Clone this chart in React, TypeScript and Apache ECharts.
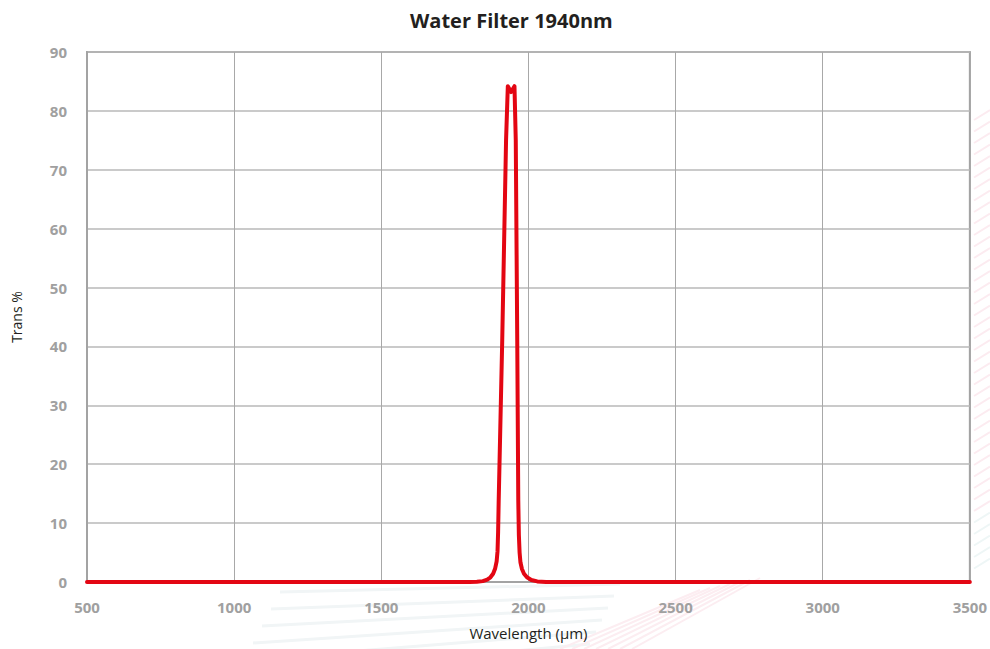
import React, { useEffect, useRef } from "react";
import * as echarts from "echarts";

// Transmission curve of the 1940 nm water filter
const wavelengths = [
  500, 1000, 1500, 1800, 1825, 1845, 1860, 1871, 1880, 1887, 1892, 1895, 1897,
  1899, 1911, 1924, 1930, 1941, 1952.6, 1957, 1962, 1965.5, 1967.5, 1970,
  1973, 1978, 1985, 1995, 2010, 2030, 2060, 2200, 2500, 3000, 3500,
];
const transmission = [
  0, 0, 0, 0, 0.05, 0.15, 0.4, 0.8, 1.4, 2.3, 3.5, 5.2, 8.5, 13.9, 41.1, 75,
  84.2, 83.2, 84.2, 75, 41.1, 13.9, 8, 5, 3.3, 2.2, 1.4, 0.8, 0.35, 0.1, 0, 0,
  0, 0, 0,
];
const xTicks = [500, 1000, 1500, 2000, 2500, 3000, 3500];
const yTicks = [0, 10, 20, 30, 40, 50, 60, 70, 80, 90];

const FONT = "'Open Sans', 'Noto Sans', sans-serif";

// faint decorative stripes behind the plot
function decorStripes() {
  const items: any[] = [];
  for (let i = 0; i < 6; i++) {
    items.push({
      type: "line",
      silent: true,
      z: -10,
      shape: { x1: 280 - i * 9, y1: 592 + i * 17, x2: 620 - i * 6, y2: 584 + i * 12 },
      style: { stroke: "#f1f5f6", lineWidth: 3 },
    });
  }
  for (let i = 0; i < 7; i++) {
    items.push({
      type: "line",
      silent: true,
      z: -10,
      shape: { x1: 560 + i * 12, y1: 649, x2: 700 + i * 10, y2: 590 - i * 2 },
      style: { stroke: "#fcedf1", lineWidth: 2 },
    });
  }
  for (let i = 0; i < 40; i++) {
    const y = 110 + i * 11.5;
    items.push({
      type: "line",
      silent: true,
      z: -10,
      shape: { x1: 974, y1: y + 10, x2: 990, y2: y },
      style: { stroke: i > 34 ? "#eef6f6" : "#fcebf0", lineWidth: 2 },
    });
  }
  return items;
}

export default function App() {
  const ref = useRef<HTMLDivElement>(null);

  useEffect(() => {
    if (!ref.current) return;
    const chart = echarts.init(ref.current, null, { renderer: "svg" });
    const data = wavelengths.map((w, i) => [w, transmission[i]]);
    chart.setOption({
      animation: false,
      backgroundColor: "#ffffff",
      title: {
        text: "Water Filter 1940nm",
        left: 405,
        top: 5,
        textStyle: {
          fontFamily: FONT,
          fontSize: 20,
          fontWeight: "bold",
          color: "#231f20",
        },
      },
      graphic: decorStripes(),
      grid: {
        left: 87,
        right: 19,
        top: 52,
        bottom: 67,
        show: true,
        borderColor: "#a3a3a3",
        borderWidth: 2,
        backgroundColor: "transparent",
      },
      xAxis: {
        type: "value",
        min: xTicks[0],
        max: xTicks[xTicks.length - 1],
        interval: 500,
        name: "Wavelength (µm)",
        nameLocation: "middle",
        nameGap: 43,
        nameTextStyle: { fontFamily: FONT, fontSize: 15, color: "#231f20" },
        axisLine: { show: true, lineStyle: { color: "#a3a3a3", width: 2 } },
        axisTick: { show: false },
        axisLabel: {
          margin: 17,
          fontFamily: FONT,
          fontSize: 15,
          fontWeight: "bold",
          color: "#a0a0a0",
          formatter: (v: number) => String(v),
        },
        splitLine: { show: true, lineStyle: { color: "#a8a8a8", width: 1 } },
      },
      yAxis: {
        type: "value",
        min: yTicks[0],
        max: yTicks[yTicks.length - 1],
        interval: 10,
        name: "Trans %",
        nameLocation: "middle",
        nameGap: 64,
        nameTextStyle: { fontFamily: FONT, fontSize: 14, color: "#231f20" },
        axisLine: { show: true, lineStyle: { color: "#a3a3a3", width: 2 } },
        axisTick: { show: false },
        axisLabel: {
          margin: 20,
          fontFamily: FONT,
          fontSize: 15,
          fontWeight: "bold",
          color: "#a0a0a0",
        },
        splitLine: { show: true, lineStyle: { color: "#b8b8b8", width: 1.5 } },
      },
      series: [
        {
          type: "line",
          data,
          showSymbol: false,
          smooth: false,
          clip: false,
          lineStyle: { color: "#e30613", width: 4, join: "round", cap: "round" },
          z: 5,
        },
      ],
    });
    return () => chart.dispose();
  }, []);

  return (
    <div
      ref={ref}
      style={{ position: "fixed", left: 0, top: 0, width: 990, height: 649 }}
    />
  );
}
